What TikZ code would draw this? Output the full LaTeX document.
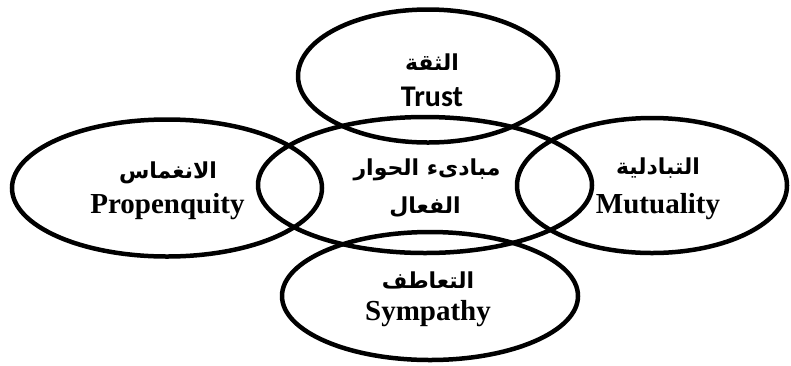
\documentclass[tikz,border=0pt]{standalone}
\usepackage{fontspec}
\usetikzlibrary{shapes.geometric}
\TeXXeTstate=1
\newfontfamily\arabicfont[Script=Arabic]{DejaVu Sans}
\newfontfamily\serifen{Liberation Serif}
\newfontfamily\sansen{Carlito}
\begin{document}
\begin{tikzpicture}[x=1pt,y=-1pt,
  oval/.style={draw, ellipse, line width=4.5pt, inner sep=0pt},
  ar/.style={font=\arabicfont\bfseries\fontsize{22}{24}\selectfont, inner sep=0pt},
  en/.style={font=\serifen\bfseries\fontsize{29}{32}\selectfont, inner sep=0pt, anchor=base},
  ensans/.style={font=\sansen\bfseries\fontsize{30}{32}\selectfont, inner sep=0pt, anchor=base}]
\useasboundingbox (0,0) rectangle (791,365);
% ellipses
\node[oval, minimum width=260pt, minimum height=133pt] (top) at (428,76) {};
\node[oval, minimum width=310pt, minimum height=137pt] (left) at (167,188) {};
\node[oval, minimum width=270pt, minimum height=135pt] (right) at (652,185.5) {};
\node[oval, minimum width=334pt, minimum height=136pt] (center) at (425,185) {};
\node[oval, minimum width=296pt, minimum height=128pt] (bottom) at (430,296) {};
% texts
\node[ar] (tTopAr) at (432,62) {\beginR الثقة\endR};
\node[ensans] (tTopEn) at (432,106) {Trust};
\node[ar] (tLeftAr) at (168,173) {\beginR الانغماس\endR};
\node[en] (tLeftEn) at (167.5,213) {Propenquity};
\node[ar] (tRightAr) at (658,168) {\beginR التبادلية\endR};
\node[en] (tRightEn) at (658,213) {Mutuality};
\node[ar] (tCenAr1) at (427,170) {\beginR مبادىء الحوار\endR};
\node[ar] (tCenAr2) at (425,207) {\beginR الفعال\endR};
\node[ar] (tBotAr) at (428,280) {\beginR التعاطف\endR};
\node[en] (tBotEn) at (428,320) {Sympathy};
\end{tikzpicture}
\end{document}
